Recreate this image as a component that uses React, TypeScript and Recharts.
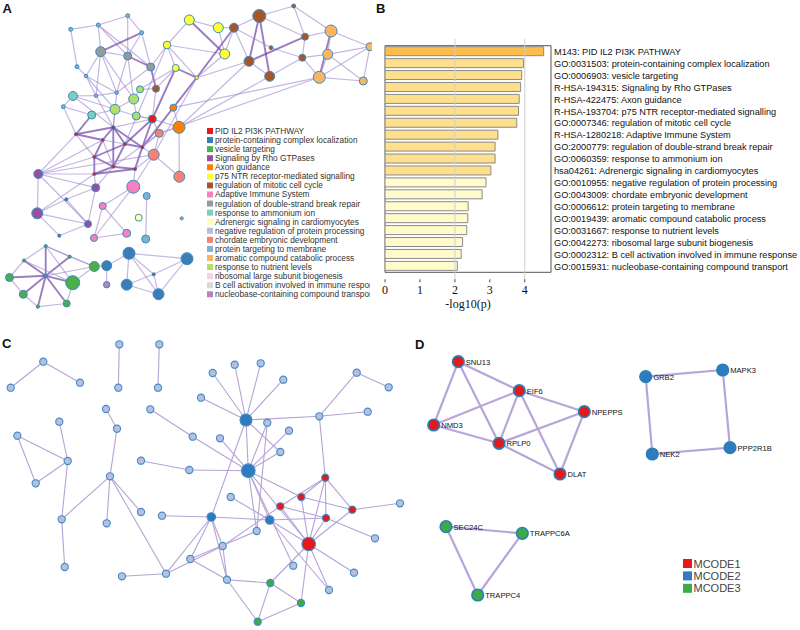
import React from 'react';
import {
  BarChart, Bar, XAxis, YAxis, Cell, ReferenceLine, ReferenceArea,
  ScatterChart, Scatter,
} from 'recharts';

// ---------------- Panel B data ----------------
const termLabels = [
  'M143: PID IL2 PI3K PATHWAY',
  'GO:0031503: protein-containing complex localization',
  'GO:0006903: vesicle targeting',
  'R-HSA-194315: Signaling by Rho GTPases',
  'R-HSA-422475: Axon guidance',
  'R-HSA-193704: p75 NTR receptor-mediated signalling',
  'GO:0007346: regulation of mitotic cell cycle',
  'R-HSA-1280218: Adaptive Immune System',
  'GO:2000779: regulation of double-strand break repair',
  'GO:0060359: response to ammonium ion',
  'hsa04261: Adrenergic signaling in cardiomyocytes',
  'GO:0010955: negative regulation of protein processing',
  'GO:0043009: chordate embryonic development',
  'GO:0006612: protein targeting to membrane',
  'GO:0019439: aromatic compound catabolic process',
  'GO:0031667: response to nutrient levels',
  'GO:0042273: ribosomal large subunit biogenesis',
  'GO:0002312: B cell activation involved in immune response',
  'GO:0015931: nucleobase-containing compound transport',
];
const logP = [4.54, 3.96, 3.91, 3.88, 3.84, 3.82, 3.77, 3.23, 3.15, 3.15, 3.03, 2.89, 2.78, 2.38, 2.37, 2.34, 2.22, 2.18, 2.07];
const tier = [1, 2, 2, 2, 2, 2, 2, 2, 2, 2, 2, 3, 3, 3, 3, 3, 3, 3, 3];
const xTicks = [0, 1, 2, 3, 4];
const xMax = 4.75;
const tierColors: Record<number, string> = { 1: '#FCBD4B', 2: '#FEDF8C', 3: '#FFFBCB' };

// ---------------- Panel A data ----------------
const aLegendNames = [
  'PID IL2 PI3K PATHWAY',
  'protein-containing complex localization',
  'vesicle targeting',
  'Signaling by Rho GTPases',
  'Axon guidance',
  'p75 NTR receptor-mediated signalling',
  'regulation of mitotic cell cycle',
  'Adaptive Immune System',
  'regulation of double-strand break repair',
  'response to ammonium ion',
  'Adrenergic signaling in cardiomyocytes',
  'negative regulation of protein processing',
  'chordate embryonic development',
  'protein targeting to membrane',
  'aromatic compound catabolic process',
  'response to nutrient levels',
  'ribosomal large subunit biogenesis',
  'B cell activation involved in immune response',
  'nucleobase-containing compound transport',
];
const aLegendColors = [
  '#E41A1C', '#3A7DB8', '#4DAF4A', '#984EA3', '#FF7F00', '#FFFF33', '#A65628', '#F781BF', '#999999',
  '#7FCDBB', '#FFFFB3', '#BEBADA', '#FB8072', '#80B1D3', '#FDB462', '#B3DE69', '#FCCDE5', '#D9D9D9', '#BC80BD',
];
// [id, x, y, size, cluster]
const aNodes: [string, number, number, number, number][] = [
  ['a1', 70.7, 29.3, 2, 13], ['a2', 98.3, 25, 2, 13], ['a3', 127.7, 15.7, 2, 13], ['a4', 141.7, 32.7, 2, 13],
  ['a5', 77, 66.7, 2, 13], ['a6', 100.7, 51.7, 5, 8], ['a7', 127.7, 56, 4, 8], ['a8', 150.7, 67, 4, 8],
  ['a9', 86, 76, 1.8, 13], ['a10', 116.7, 92.7, 1.8, 13], ['a11', 96, 95.7, 1.8, 13],
  ['y1', 189.3, 20, 5, 5], ['y2', 218.3, 27.7, 5, 5], ['y3', 167, 45, 3.8, 5], ['y4', 224.7, 54, 5, 5],
  ['y5', 175.7, 68, 3.5, 5], ['y6', 196.7, 77.7, 1.8, 5],
  ['b1', 234, 27.7, 4.5, 6], ['b2', 259.3, 16, 6.5, 6], ['b3', 293.7, 6, 2, 6], ['b4', 305, 36.7, 3.5, 6],
  ['b5', 271, 47.7, 2, 6], ['b6', 249, 61.3, 5, 6], ['b7', 302.3, 57.7, 3.5, 6], ['b8', 269.7, 76.3, 5, 6],
  ['b9', 156, 88.7, 3.5, 6],
  ['o1', 331, 31, 6, 14], ['o2', 327.7, 54.3, 5, 14], ['o3', 319.3, 77.3, 6, 14], ['o4', 363.3, 81, 4, 14],
  ['o5', 370, 46.7, 4, 14],
  ['ax1', 173.3, 107.7, 3.5, 4], ['ax2', 179, 127.3, 6, 4],
  ['r1', 152.3, 119, 4, 0],
  ['g1', 140, 89.3, 3.5, 15], ['g2', 133.7, 99, 5, 15], ['g3', 115, 109.3, 5, 15], ['g4', 136.3, 116, 4, 15],
  ['t1', 73, 96, 4.5, 9], ['t2', 91.7, 115, 4, 9], ['t3', 63.3, 106.7, 2, 13],
  ['h1', 76, 134.3, 1.6, 0], ['h2', 113.3, 127.3, 1.6, 0], ['h3', 102.7, 140, 1.6, 0], ['h4', 125, 144, 1.6, 0],
  ['h5', 142.3, 147.3, 1.6, 0], ['h6', 94.3, 157, 1.6, 0], ['h7', 113.3, 166.7, 1.6, 0], ['h8', 135, 169, 1.6, 0],
  ['h9', 94.3, 174, 1.6, 0],
  ['s1', 159.3, 133.3, 4, 12], ['s2', 153.7, 154.7, 5.5, 12], ['s3', 179.3, 176.7, 5.5, 12],
  ['p1', 38.3, 174, 4.5, 3], ['p2', 95.7, 187.7, 4, 3], ['p3', 37.3, 213.3, 5.5, 3], ['p4', 88, 224, 3.5, 3],
  ['p5', 66.3, 199.3, 1.6, 1], ['p6', 59.3, 235.7, 1.6, 1],
  ['pk1', 133.3, 186.7, 6.5, 7], ['pk2', 102.7, 206, 3.5, 7], ['pk3', 94, 238, 3.5, 7], ['pk4', 126.7, 233.3, 4, 7],
  ['lb1', 146.7, 196, 3.5, 13], ['lb2', 145.7, 239, 4, 13], ['lb3', 181.7, 218.3, 1.6, 13],
  ['ay', 138.7, 217.7, 3.5, 10],
  ['bl1', 129, 253.3, 6, 1], ['bl2', 187, 258.7, 6, 1], ['bl3', 106.7, 265.7, 5, 1], ['bl4', 153.7, 274.3, 1.6, 1],
  ['bl5', 126.7, 284.7, 5.5, 1], ['bl6', 158.5, 294.2, 5.5, 1], ['nb', 106.7, 284.7, 3.2, 18],
  ['gr1', 9.5, 277.5, 4, 2], ['gr2', 23.3, 294.3, 4, 2], ['gr3', 45.7, 246, 1.6, 2], ['gr4', 24, 260.5, 1.6, 2],
  ['gr5', 69.7, 256.7, 1.6, 2], ['gr6', 45.7, 275.8, 1.6, 2], ['gr7', 94.3, 266.5, 5, 2], ['gr8', 72.7, 282.7, 7, 2],
  ['gr9', 66.7, 303.5, 3.5, 2], ['gr10', 37.9, 306.7, 1.6, 2],
];
// [from, to, weight]
const aEdges: [string, string, number][] = [
  ['a1', 'a2', 1], ['a1', 'a5', 1], ['a2', 'a3', 1], ['a2', 'a6', 1], ['a2', 'a7', 1], ['a2', 'a8', 1], ['a3', 'a4', 1],
  ['a3', 'a7', 1], ['a4', 'a6', 2], ['a4', 'a7', 1], ['a4', 'a8', 1], ['a5', 'a9', 1], ['a6', 'a9', 1], ['a6', 'a7', 1],
  ['a6', 'a10', 1], ['a6', 'a11', 1], ['a7', 'a8', 2], ['a7', 'a10', 1], ['a8', 'b9', 2], ['a8', 'a10', 1], ['a9', 'a10', 1],
  ['a9', 'g3', 1], ['a6', 'g2', 1], ['a7', 'g2', 1], ['a9', 'a11', 1],
  ['t1', 't3', 1], ['t1', 'a11', 1], ['t1', 'g3', 1], ['t3', 't2', 1], ['t2', 'g3', 1], ['a11', 'a10', 1], ['g3', 'g2', 1],
  ['g2', 'g1', 1], ['g1', 'b9', 1], ['g4', 'r1', 1], ['g3', 'g4', 1], ['g2', 'g4', 1], ['t2', 'h1', 2], ['a11', 'h2', 1],
  ['t1', 'h2', 1], ['a10', 'h2', 1], ['g3', 'h2', 1], ['t3', 'h1', 1],
  ['h1', 'h2', 2], ['h1', 'h3', 2], ['h2', 'h3', 2], ['h2', 'h4', 2], ['h2', 'h5', 2], ['h2', 'h7', 2], ['h3', 'h6', 2],
  ['h3', 'h7', 1], ['h4', 'h5', 2], ['h4', 'h6', 2], ['h4', 'h7', 2], ['h5', 'h8', 2], ['h6', 'h7', 2], ['h6', 'h9', 2],
  ['h7', 'h8', 2], ['h8', 'h9', 2], ['h7', 'h9', 2], ['h5', 'r1', 2], ['h4', 'r1', 2], ['h2', 'r1', 1], ['h5', 'y6', 2],
  ['h4', 'y3', 1], ['h7', 's1', 1], ['h5', 's2', 1], ['h8', 's2', 1], ['h1', 'h6', 1], ['h3', 'h4', 1],
  ['y1', 'y4', 2], ['y1', 'y2', 1], ['y3', 'y4', 1], ['y3', 'y6', 1], ['y2', 'y4', 1], ['y3', 'y5', 1], ['y5', 'y6', 2],
  ['y4', 'b1', 1], ['y2', 'b1', 1], ['y6', 'b1', 2], ['y1', 'y3', 1], ['y5', 'b9', 1], ['y3', 'a8', 1], ['y5', 'g1', 1],
  ['y4', 'y6', 1],
  ['b1', 'b2', 1], ['b1', 'b6', 1], ['b2', 'b6', 2], ['b2', 'b8', 2], ['b2', 'b4', 1], ['b2', 'b3', 1], ['b3', 'b4', 1],
  ['b4', 'b7', 1], ['b5', 'b7', 1], ['b6', 'b8', 1], ['b6', 'b4', 2], ['b7', 'b8', 1], ['b4', 'o1', 1], ['b7', 'o2', 1],
  ['b7', 'o3', 1], ['b3', 'o1', 1], ['b1', 'b5', 1], ['b6', 'y6', 1],
  ['o1', 'o3', 2], ['o1', 'o2', 1], ['o2', 'o3', 1], ['o2', 'o4', 1], ['o3', 'o4', 1], ['o1', 'o5', 1], ['o5', 'o4', 1],
  ['o2', 'o5', 1], ['o3', 'o5', 1],
  ['ax1', 'ax2', 1], ['r1', 'ax2', 1], ['ax2', 's1', 1], ['s1', 'h5', 1], ['r1', 's1', 1], ['ax2', 'b6', 1],
  ['ax1', 'o3', 1], ['s2', 's3', 1], ['s1', 's2', 1], ['ax2', 's3', 1], ['r1', 'g4', 1], ['r1', 'y5', 2], ['r1', 'b9', 1],
  ['p1', 'h1', 1], ['p1', 'h6', 1], ['p1', 'h9', 1], ['p1', 'p3', 1], ['p1', 'p2', 1], ['p1', 'p4', 1], ['p3', 'p5', 1],
  ['p3', 'p6', 1], ['p5', 'p2', 1], ['p5', 'p4', 1], ['p4', 'p6', 1], ['p2', 'h9', 1], ['p2', 'h7', 1], ['p4', 'p2', 1],
  ['p1', 's2', 1], ['p3', 'h9', 1], ['p1', 'h3', 1], ['p3', 'p4', 1],
  ['pk2', 'pk4', 1], ['pk2', 'pk3', 1], ['pk3', 'pk4', 1], ['pk1', 'pk2', 1], ['pk1', 'h8', 1], ['pk1', 's2', 1],
  ['pk1', 'pk3', 1], ['lb1', 'lb2', 1],
  ['gr3', 'gr6', 2], ['gr4', 'gr6', 2], ['gr5', 'gr6', 2], ['gr1', 'gr6', 2], ['gr2', 'gr6', 2], ['gr8', 'gr6', 2],
  ['gr9', 'gr6', 2], ['gr10', 'gr6', 2], ['gr7', 'gr6', 1], ['gr1', 'gr4', 1], ['gr4', 'gr3', 1], ['gr3', 'gr5', 1],
  ['gr5', 'gr7', 1], ['gr7', 'gr8', 1], ['gr8', 'gr9', 1], ['gr9', 'gr10', 1], ['gr2', 'gr10', 1], ['gr1', 'gr2', 1],
  ['gr3', 'gr8', 1], ['gr4', 'gr8', 1], ['gr3', 'gr7', 1],
  ['bl1', 'bl2', 1], ['bl1', 'bl5', 1], ['bl1', 'bl4', 1], ['bl2', 'bl6', 1], ['bl2', 'bl4', 1], ['bl4', 'bl5', 1],
  ['bl5', 'bl6', 1], ['bl1', 'bl6', 1], ['bl3', 'nb', 1], ['bl3', 'bl1', 1], ['bl4', 'bl6', 1], ['bl3', 'gr7', 1],
  ['b8', 'ax2', 1], ['o3', 's1', 1], ['y6', 's2', 1],
];

// ---------------- Panel C data ----------------
// [id, x, y, group, size]
const cNodes: [string, number, number, string, number][] = [
  ['c1', 43.3, 361.7, 'n', 1], ['c2', 10.7, 387.7, 'n', 1], ['c3', 80, 382.7, 'n', 1], ['c4', 119.3, 344.3, 'n', 1],
  ['c5', 118.3, 387.7, 'n', 1], ['c6', 159.3, 344.3, 'n', 1], ['c7', 158, 387.7, 'n', 1], ['c8', 17.3, 435.7, 'n', 1],
  ['c9', 67.7, 461, 'n', 1], ['c10', 35.7, 483.3, 'n', 1], ['c11', 59.3, 421.7, 'n', 1], ['c12', 61.7, 519.3, 'n', 1],
  ['c13', 64.7, 567, 'n', 1], ['c14', 106, 409, 'n', 1], ['c15', 117, 428.7, 'n', 1], ['c16', 110, 476.3, 'n', 1],
  ['c17', 106.7, 523.3, 'n', 1], ['c18', 141, 512, 'n', 1], ['c19', 166, 573.7, 'n', 1], ['c20', 122, 576.3, 'n', 1],
  ['c21', 150.3, 409.3, 'n', 1], ['c22', 192.7, 436.7, 'n', 1], ['c23', 141, 460.7, 'n', 1], ['c24', 189.3, 470, 'n', 1],
  ['c25', 248.3, 470.7, 'b', 3], ['c26', 246, 420, 'b', 2.5], ['c27', 212.7, 373, 'n', 1], ['c28', 234.7, 364.7, 'n', 1],
  ['c29', 260.7, 363.3, 'n', 1], ['c30', 283.3, 379.7, 'n', 1], ['c31', 201, 397.7, 'n', 1], ['c32', 267.3, 422.7, 'n', 1],
  ['c33', 220, 438.3, 'n', 1], ['c34', 289, 430.7, 'n', 1], ['c35', 280.3, 452, 'n', 1], ['c36', 319.3, 416.3, 'n', 1],
  ['c37', 356.7, 372.7, 'n', 1], ['c38', 388.7, 387.3, 'n', 1], ['c39', 367.7, 411.7, 'n', 1], ['c40', 325.3, 477.7, 'r', 1],
  ['c41', 301.3, 497, 'r', 1], ['c42', 280.3, 506.3, 'r', 1], ['c43', 352.3, 509.7, 'r', 1], ['c44', 326, 518, 'r', 1],
  ['c45', 308.7, 544, 'r', 3], ['c46', 400, 503.3, 'n', 1], ['c47', 375, 538.3, 'n', 1], ['c48', 211.3, 517, 'b', 1.4],
  ['c49', 269.7, 520, 'b', 1.4], ['c50', 230.7, 497, 'n', 1], ['c51', 162, 515.7, 'n', 1], ['c52', 256.7, 531, 'n', 1],
  ['c53', 222.7, 546, 'n', 1], ['c54', 190.3, 559, 'n', 1], ['c55', 293.3, 565.7, 'n', 1], ['c56', 354, 572.7, 'n', 1],
  ['c57', 329, 590, 'n', 1], ['c58', 227, 579.7, 'n', 1], ['c59', 270.3, 583, 'g', 1], ['c60', 301, 603, 'g', 1],
  ['c61', 257.7, 621.7, 'g', 1],
];
const cEdges: [string, string][] = [
  ['c1', 'c2'], ['c1', 'c3'], ['c4', 'c5'], ['c6', 'c7'],
  ['c8', 'c9'], ['c8', 'c10'], ['c10', 'c9'], ['c11', 'c9'], ['c9', 'c12'], ['c12', 'c13'], ['c12', 'c16'],
  ['c14', 'c15'], ['c15', 'c16'], ['c16', 'c17'], ['c16', 'c18'], ['c16', 'c19'],
  ['c19', 'c20'], ['c19', 'c48'], ['c19', 'c53'],
  ['c21', 'c22'], ['c22', 'c25'], ['c23', 'c24'], ['c24', 'c25'],
  ['c26', 'c27'], ['c26', 'c28'], ['c26', 'c29'], ['c26', 'c30'], ['c26', 'c31'], ['c26', 'c36'], ['c26', 'c25'],
  ['c26', 'c35'], ['c26', 'c48'],
  ['c25', 'c32'], ['c25', 'c34'], ['c25', 'c35'], ['c25', 'c33'], ['c25', 'c41'], ['c25', 'c45'], ['c25', 'c49'],
  ['c25', 'c52'], ['c25', 'c55'], ['c32', 'c52'],
  ['c36', 'c37'], ['c36', 'c39'], ['c36', 'c40'], ['c37', 'c38'],
  ['c40', 'c41'], ['c40', 'c42'], ['c40', 'c44'], ['c40', 'c45'], ['c40', 'c43'], ['c41', 'c43'], ['c41', 'c45'],
  ['c42', 'c44'], ['c42', 'c45'], ['c43', 'c45'], ['c43', 'c46'], ['c44', 'c45'], ['c44', 'c47'], ['c44', 'c49'],
  ['c48', 'c51'], ['c48', 'c49'], ['c48', 'c53'], ['c48', 'c54'], ['c48', 'c58'],
  ['c49', 'c45'], ['c49', 'c50'], ['c49', 'c57'], ['c54', 'c52'], ['c53', 'c42'],
  ['c45', 'c56'], ['c45', 'c57'], ['c45', 'c59'], ['c45', 'c60'],
  ['c53', 'c58'], ['c54', 'c58'], ['c58', 'c59'], ['c58', 'c61'], ['c59', 'c60'], ['c59', 'c61'], ['c61', 'c60'],
];

// ---------------- Panel D data ----------------
const mcodeNames = ['MCODE1', 'MCODE2', 'MCODE3'];
const mcodeColors = ['#E31A1C', '#2F7BBF', '#3DAA48'];
// [gene, x, y, module]
const dNodes: [string, number, number, number][] = [
  ['SNU13', 458.3, 361.7, 0], ['EIF6', 519.3, 390.7, 0], ['NPEPPS', 584.3, 411.7, 0], ['NMD3', 433.7, 425, 0],
  ['RPLP0', 499, 443.3, 0], ['DLAT', 560, 474, 0],
  ['GRB2', 645.7, 376.7, 1], ['MAPK3', 722.7, 370, 1], ['NEK2', 652.3, 454, 1], ['PPP2R1B', 730, 447.7, 1],
  ['SEC24C', 446, 526.7, 2], ['TRAPPC6A', 522.3, 533.3, 2], ['TRAPPC4', 477.7, 595, 2],
];
const dEdges: [string, string][] = [
  ['SNU13', 'EIF6'], ['SNU13', 'NMD3'], ['SNU13', 'RPLP0'], ['EIF6', 'NMD3'], ['EIF6', 'RPLP0'], ['EIF6', 'NPEPPS'],
  ['EIF6', 'DLAT'], ['NPEPPS', 'RPLP0'], ['NPEPPS', 'DLAT'], ['NMD3', 'RPLP0'], ['RPLP0', 'DLAT'],
  ['GRB2', 'MAPK3'], ['MAPK3', 'PPP2R1B'], ['PPP2R1B', 'NEK2'], ['NEK2', 'GRB2'],
  ['SEC24C', 'TRAPPC6A'], ['TRAPPC6A', 'TRAPPC4'], ['TRAPPC4', 'SEC24C'],
];

// ---------------- helpers ----------------
const SANS = '"Liberation Sans", Arial, Helvetica, sans-serif';
const SERIF = '"Liberation Serif", "Times New Roman", serif';
const emptyShape = () => <g />;

type NetProps = {
  x0: number; y0: number; w: number; h: number;
  nodes: any[]; edges: any[];
  edgeStyle: (e: any) => { stroke: string; strokeWidth: number; strokeOpacity?: number };
  nodeShape: (p: any) => React.ReactElement;
};

function Network({ x0, y0, w, h, nodes, edges, edgeStyle, nodeShape }: NetProps) {
  const byId: Record<string, any> = {};
  nodes.forEach((n) => { byId[n.id] = n; });
  return (
    <div style={{ position: 'absolute', left: x0, top: y0, width: w, height: h }}>
      <ScatterChart width={w} height={h} margin={{ top: 0, right: 0, bottom: 0, left: 0 }}>
        <XAxis type="number" dataKey="x" domain={[x0, x0 + w]} hide />
        <YAxis type="number" dataKey="y" domain={[y0, y0 + h]} reversed hide />
        {edges.map((e, i) => (
          <Scatter
            key={'e' + i}
            data={[byId[e[0]], byId[e[1]]]}
            line={edgeStyle(e)}
            shape={emptyShape}
            isAnimationActive={false}
          />
        ))}
        <Scatter data={nodes} shape={nodeShape} isAnimationActive={false} />
      </ScatterChart>
    </div>
  );
}

function PanelA() {
  const nodes = aNodes.map(([id, x, y, size, cl]) => ({ id, x, y, size, cl }));
  const shape = (p: any) => {
    const d = p.payload || p;
    return (
      <circle cx={p.cx} cy={p.cy} r={d.size} fill={aLegendColors[d.cl]}
        stroke={d.size < 2 ? '#3577B0' : '#3C8DBC'} strokeWidth={d.size < 2 ? 0.8 : 1} />
    );
  };
  const edgeStyle = (e: any) => (e[2] === 2
    ? { stroke: '#6F45A8', strokeWidth: 1.9, strokeOpacity: 0.7 }
    : { stroke: '#9F86CF', strokeWidth: 1.2, strokeOpacity: 0.6 });
  return (
    <>
      <Network x0={0} y0={0} w={372} h={312} nodes={nodes} edges={aEdges} edgeStyle={edgeStyle} nodeShape={shape} />
      <div style={{ position: 'absolute', left: 206, top: 120, width: 164, height: 185, overflow: 'hidden' }}>
        <svg width={164} height={185}>
          {aLegendNames.map((name, i) => {
            const cy = 11 + i * 9.07;
            return (
              <g key={name}>
                <rect x={1} y={cy - 3} width={6} height={6} fill={aLegendColors[i]} />
                <text x={9} y={cy + 3} fontSize={8.3} fontFamily={SANS} fill="#333">{name}</text>
              </g>
            );
          })}
        </svg>
      </div>
    </>
  );
}

const TermTick = (props: any) => (
  <text x={props.x} y={props.y} dy="0.35em" textAnchor="start" fontSize={9.2} fontFamily={SANS} fill="#111">
    {props.payload.value}
  </text>
);

function PanelB() {
  const data = termLabels.map((name, i) => ({ name, value: logP[i], tier: tier[i] }));
  return (
    <div style={{ position: 'absolute', left: 0, top: 0 }}>
      <BarChart width={800} height={320} layout="vertical" data={data}
        margin={{ top: 38.7, right: 9, bottom: 10.7, left: 385 }}>
        <XAxis type="number" domain={[0, xMax]} ticks={xTicks} allowDataOverflow
          axisLine={false} tickSize={3} tickMargin={3} height={30}
          tickLine={{ stroke: '#444' }}
          tick={{ fontSize: 12, fontFamily: SERIF, fill: '#111' }}
          label={{ value: '-log10(p)', position: 'insideBottom', offset: 1, fontSize: 12, fontFamily: SERIF, fill: '#111' }} />
        <YAxis type="category" dataKey="name" orientation="right" width={240}
          axisLine={false} tickLine={false} tickSize={0} tickMargin={3} interval={0}
          padding={{ top: 7, bottom: 7 }}
          tick={<TermTick />} />
        <ReferenceLine x={2} stroke="#cfcfcf" strokeWidth={1} />
        <ReferenceLine x={4} stroke="#cfcfcf" strokeWidth={1} />
        <Bar dataKey="value" barSize={9} stroke="#8a8a8a" strokeWidth={1} isAnimationActive={false}>
          {data.map((d, i) => <Cell key={i} fill={tierColors[d.tier]} />)}
        </Bar>
        <ReferenceArea x1={0} x2={xMax} fill="none" fillOpacity={0} stroke="#555" strokeWidth={1} ifOverflow="visible" />
      </BarChart>
    </div>
  );
}

function PanelC() {
  const nodes = cNodes.map(([id, x, y, g, size]) => ({ id, x, y, g, size }));
  const fills: Record<string, string> = { n: '#B7BEE0', b: '#2F7BBF', r: '#E31A1C', g: '#3DAA48' };
  const shape = (p: any) => {
    const d = p.payload || p;
    const r = 3.6 + (d.size - 1) * 1.6;
    return <circle cx={p.cx} cy={p.cy} r={r} fill={fills[d.g]} stroke="#3F8CC6" strokeWidth={1.1} />;
  };
  const edgeStyle = () => ({ stroke: '#B5A3D6', strokeWidth: 1.1 });
  return <Network x0={0} y0={328} w={410} h={302} nodes={nodes} edges={cEdges} edgeStyle={edgeStyle} nodeShape={shape} />;
}

function PanelD() {
  const nodes = dNodes.map(([id, x, y, m]) => ({ id, x, y, m }));
  const shape = (p: any) => {
    const d = p.payload || p;
    return (
      <g>
        <circle cx={p.cx} cy={p.cy} r={5.8} fill={mcodeColors[d.m]} stroke="#2A7FB8" strokeWidth={1.6} />
        <text x={p.cx + 7.5} y={p.cy + 2.8} fontSize={7.6} fontFamily={SANS} fill="#111">{d.id}</text>
      </g>
    );
  };
  const edgeStyle = () => ({ stroke: '#B7A5D9', strokeWidth: 2.2 });
  return (
    <>
      <Network x0={410} y0={328} w={390} h={302} nodes={nodes} edges={dEdges} edgeStyle={edgeStyle} nodeShape={shape} />
      <svg style={{ position: 'absolute', left: 680, top: 555 }} width={80} height={40}>
        {mcodeNames.map((n, i) => {
          const cy = 8.5 + i * 12.4;
          return (
            <g key={n}>
              <rect x={3} y={cy - 4.5} width={9} height={9} fill={mcodeColors[i]} />
              <text x={13.5} y={cy + 4} fontSize={11} fontFamily={SANS} fill="#444">{n}</text>
            </g>
          );
        })}
      </svg>
    </>
  );
}

const panelLabel = (t: string, left: number, top: number) => (
  <div style={{ position: 'absolute', left, top, fontFamily: SANS, fontWeight: 'bold', fontSize: 13, lineHeight: '13px', color: '#111' }}>{t}</div>
);

export default function App() {
  return (
    <div style={{ position: 'absolute', left: 0, top: 0, width: 800, height: 630, background: '#fff', overflow: 'hidden' }}>
      <PanelA />
      <PanelB />
      <PanelC />
      <PanelD />
      {panelLabel('A', 2.5, 2.3)}
      {panelLabel('B', 376, 1.6)}
      {panelLabel('C', 2, 336.5)}
      {panelLabel('D', 415, 337.5)}
    </div>
  );
}
